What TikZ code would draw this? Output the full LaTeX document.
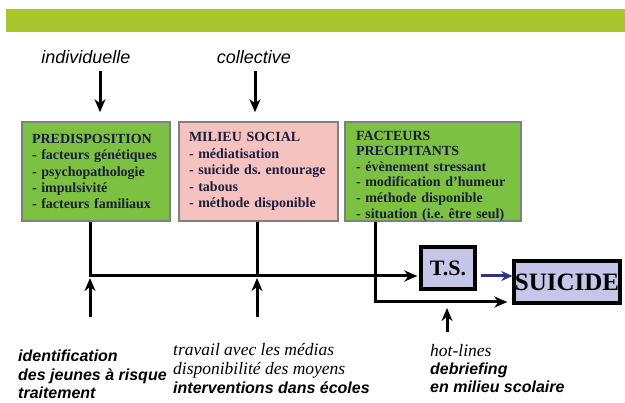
\documentclass[tikz,border=0pt]{standalone}
\usepackage{fontspec}
\setmainfont{Liberation Serif}
\setsansfont{Liberation Sans}
\usetikzlibrary{positioning, arrows.meta}

\definecolor{bandgreen}{HTML}{A9C62F}
\definecolor{boxgreen}{HTML}{7DC142}
\definecolor{boxpink}{HTML}{F6C2C0}
\definecolor{boxlav}{HTML}{C5C6E8}
\definecolor{boxtext}{HTML}{1C1C3C}
\definecolor{arrowblue}{HTML}{2F3382}

\begin{document}
\frenchspacing
\begin{tikzpicture}[
  x=1pt, y=-1pt,
  factbox/.style={
    draw=black!50, rectangle, line width=1.5pt,
    align=left, minimum height=99pt, inner xsep=10pt, inner ysep=0pt,
    text=boxtext, font=\fontsize{14}{16.4}\selectfont\bfseries
  },
  outbox/.style={
    draw=black, rectangle, line width=3.2pt, fill=boxlav,
    inner sep=0pt, minimum height=42pt, font=\bfseries
  },
  head/.style={font=\sffamily\itshape\fontsize{18}{20}\selectfont},
  note/.style={anchor=north west, align=left, inner sep=0pt},
  arr/.style ={draw, line width=3pt, -{Stealth[length=13pt, width=11pt, inset=4pt]}},
  barr/.style={draw=arrowblue, line width=3pt, -{Stealth[length=11pt, width=10pt, inset=3.5pt]}},
  plain/.style={draw, line width=3pt},
]

\def\yJ{276}
\newcommand{\serifit}{\fontsize{17.5}{17.5}\selectfont\rmfamily\itshape}
\newcommand{\sansbi}{\fontsize{16}{16}\selectfont\sffamily\bfseries\itshape}

%% ====================================================================
%%  FRAME AND TOP BAND
%% ====================================================================
\fill[white] (0,0) rectangle (625,403);
\useasboundingbox (0,0) rectangle (625,403);
\fill[bandgreen] (6,9) rectangle (625,32);

%% ====================================================================
%%  HEADINGS
%% ====================================================================
\node[head] (indiv) at (86,57) {individuelle};
\node[head] (coll) at (254,57) {collective};

%% ====================================================================
%%  FACTOR BOXES
%% ====================================================================
\node[factbox, fill=boxgreen, text width=128pt] (pred) at (96,171.5) {
  PREDISPOSITION\\
  - facteurs génétiques\\
  - psychopathologie\\
  - impulsivité\\
  - facteurs familiaux
};

\node[factbox, fill=boxpink, text width=139pt] (social) at (258.5,171.5) {
  MILIEU SOCIAL\\
  - médiatisation\\
  - suicide ds. entourage\\
  - tabous\\
  - méthode disponible
};

\node[factbox, fill=boxgreen, text width=154pt, inner xsep=11pt,
      font=\fontsize{14}{15.6}\selectfont\bfseries] (precip) at (433,171.5) {
  \rule{0pt}{18pt}FACTEURS\\
  PRECIPITANTS\\
  - évènement stressant\\
  - modification d’humeur\\
  - méthode disponible\\
  - situation (i.e. être seul)
};

%% -- heading arrows --
\draw[arr, shorten <=4pt, shorten >=9pt] ([xshift=14pt]indiv.south) -- ([xshift=4pt]pred.north);
\draw[arr, shorten <=4pt, shorten >=9pt] ([xshift=1pt]coll.south) -- ([xshift=-3.5pt]social.north);

%% ====================================================================
%%  OUTCOMES
%% ====================================================================
\node[outbox, minimum width=54pt, font=\fontsize{22}{22}\selectfont\bfseries] (ts) at (448,268) {T.S.};
\node[outbox, minimum width=106pt, font=\fontsize{25}{25}\selectfont\bfseries] (suicide) at (567,282) {SUICIDE};

\coordinate (j1) at (90,\yJ);
\coordinate (j2) at (257,\yJ);
\coordinate (k3) at (375,302);
\coordinate (k4) at (447,302);

%% -- paths to outcomes --
\draw[arr, shorten >=2pt] (pred.south -| j1) -- (j1) -- (j1 -| ts.west);
\draw[plain] (social.south -| j2) -- (j2);
\draw[arr, shorten >=5pt] (precip.south -| k3) -- (k3) -- (k3 -| suicide.west);
\draw[barr, shorten <=4pt] (ts.east |- j1) -- (suicide.west |- j1);

%% ====================================================================
%%  PREVENTION
%% ====================================================================
\node[note, font=\fontsize{16}{18.5}\selectfont\sffamily\bfseries\itshape] (ident) at (18,350) {
  identification\\
  des jeunes à risque\\
  traitement
};

\node[note, font=\fontsize{16}{19}\selectfont] (media) at (173,343) {
  {\serifit travail avec les médias}\\
  {\serifit disponibilité des moyens}\\
  {\sansbi interventions dans écoles}
};

\node[note, font=\fontsize{16}{18}\selectfont] (hot) at (430,344) {
  {\serifit hot-lines}\\
  {\sansbi debriefing}\\
  {\sansbi en milieu scolaire}
};

%% -- prevention arrows --
\draw[arr, shorten <=33pt, shorten >=2pt] (ident.north -| j1) -- (j1);
\draw[arr, shorten <=26pt, shorten >=2pt] (media.north -| j2) -- (j2);
\draw[arr, shorten <=12pt, shorten >=6pt] (hot.north -| k4) -- (k4);

\end{tikzpicture}
\end{document}
